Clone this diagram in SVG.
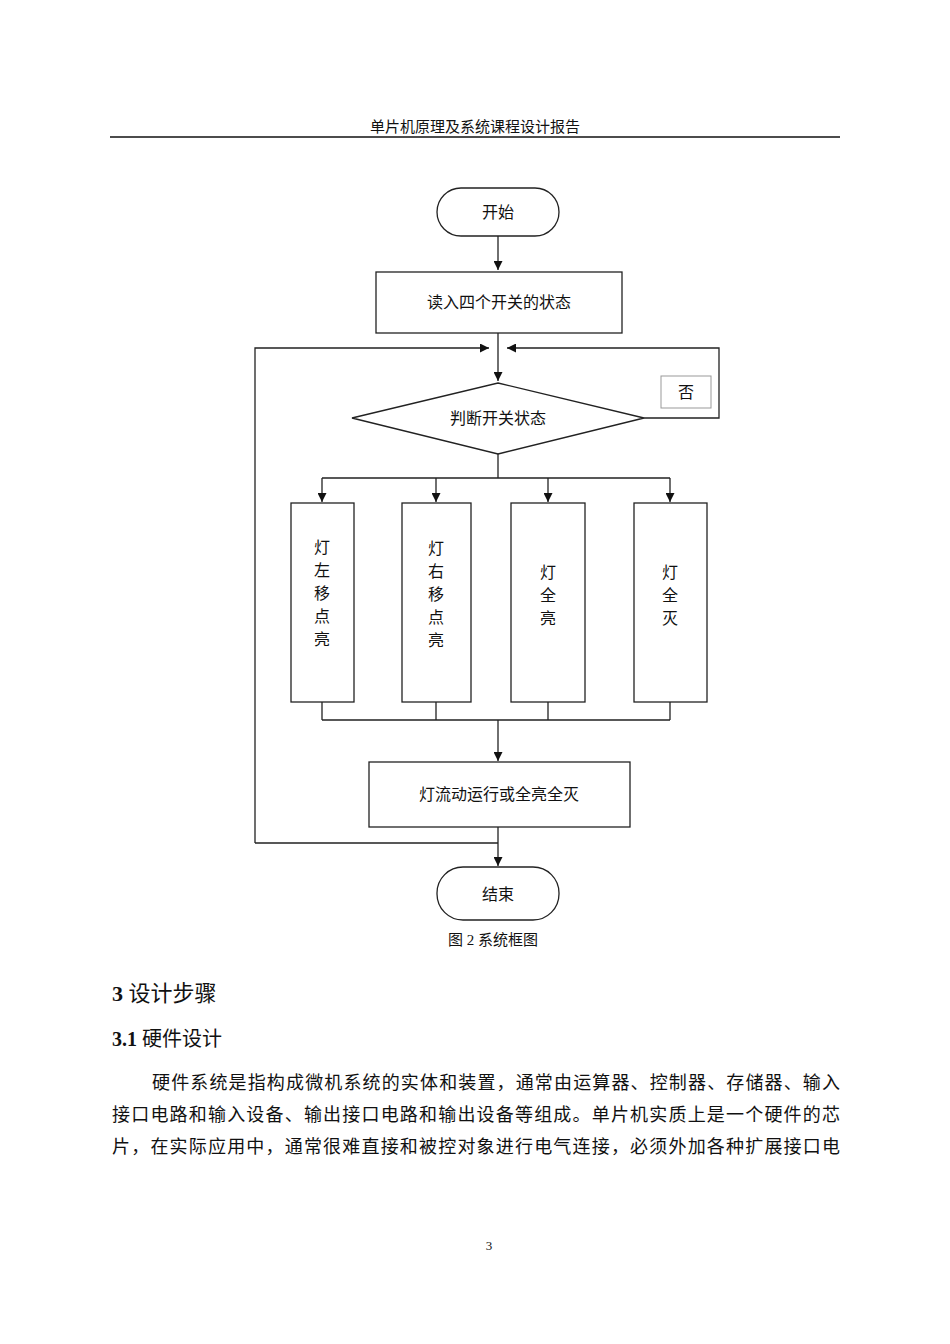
<svg xmlns="http://www.w3.org/2000/svg" width="950" height="1344" viewBox="0 0 950 1344">
<style>
text{font-family:"Liberation Serif","Noto Sans CJK SC",serif;fill:#111}
.n{fill:#fff;stroke:#222;stroke-width:1.3}
.c{fill:none;stroke:#222;stroke-width:1.3}
.t{font-size:16px;text-anchor:middle}
.b{font-size:18px}
</style>
<defs><marker id="a" viewBox="0 0 10 10" refX="10" refY="5" markerWidth="9" markerHeight="9" markerUnits="userSpaceOnUse" orient="auto"><path d="M0,0L10,5L0,10z" fill="#111"/></marker></defs>
<rect width="950" height="1344" fill="#fff"/>
<text x="475" y="132" font-size="15" text-anchor="middle">单片机原理及系统课程设计报告</text>
<line x1="110" y1="137" x2="840" y2="137" stroke="#111" stroke-width="1.5"/>
<g id="connectors">
<path class="c" d="M498,236V270" marker-end="url(#a)"/>
<path class="c" d="M498,333V381" marker-end="url(#a)"/>
<path class="c" d="M255,843V348H489" marker-end="url(#a)"/>
<path class="c" d="M644,418H719V348H507" marker-end="url(#a)"/>
<path class="c" d="M498,454V478M322,478H670"/>
<path class="c" d="M322,478V502" marker-end="url(#a)"/>
<path class="c" d="M436,478V502" marker-end="url(#a)"/>
<path class="c" d="M548,478V502" marker-end="url(#a)"/>
<path class="c" d="M670,478V502" marker-end="url(#a)"/>
<path class="c" d="M322,702V720M436,702V720M548,702V720M670,702V720M322,720H670"/>
<path class="c" d="M498,720V761" marker-end="url(#a)"/>
<path class="c" d="M255,843H498M498,827V866" marker-end="url(#a)"/>
</g>
<g id="start"><rect class="n" x="437" y="188" width="122" height="48" rx="24"/><text class="t" x="498" y="218">开始</text></g>
<g id="read"><rect class="n" x="376" y="272" width="246" height="61"/><text class="t" x="499" y="308">读入四个开关的状态</text></g>
<g id="judge"><polygon class="n" points="498,383 644,418 498,454 352,418"/><text class="t" x="498" y="424">判断开关状态</text></g>
<g id="no"><rect x="661" y="376" width="50" height="32" fill="#fff" stroke="#999"/><text class="t" x="686" y="398">否</text></g>
<g id="b1"><rect class="n" x="291" y="503" width="63" height="199"/><text class="t" x="322" y="553">灯</text><text class="t" x="322" y="576">左</text><text class="t" x="322" y="599">移</text><text class="t" x="322" y="622">点</text><text class="t" x="322" y="645">亮</text></g>
<g id="b2"><rect class="n" x="402" y="503" width="69" height="199"/><text class="t" x="436" y="554">灯</text><text class="t" x="436" y="577">右</text><text class="t" x="436" y="600">移</text><text class="t" x="436" y="623">点</text><text class="t" x="436" y="646">亮</text></g>
<g id="b3"><rect class="n" x="511" y="503" width="74" height="199"/><text class="t" x="548" y="578">灯</text><text class="t" x="548" y="601">全</text><text class="t" x="548" y="624">亮</text></g>
<g id="b4"><rect class="n" x="634" y="503" width="73" height="199"/><text class="t" x="670" y="578">灯</text><text class="t" x="670" y="601">全</text><text class="t" x="670" y="624">灭</text></g>
<g id="run"><rect class="n" x="369" y="762" width="261" height="65"/><text class="t" x="499" y="800">灯流动运行或全亮全灭</text></g>
<g id="end"><rect class="n" x="437" y="867" width="122" height="53" rx="26"/><text class="t" x="498" y="900">结束</text></g>
<text x="493" y="945" font-size="15" text-anchor="middle">图 2  系统框图</text>
<text x="112" y="1001" font-size="22"><tspan font-weight="bold">3</tspan>  设计步骤</text>
<text x="112" y="1046" font-size="20"><tspan font-weight="bold">3.1</tspan> 硬件设计</text>
<text class="b" x="152" y="1089" textLength="688" lengthAdjust="spacing">硬件系统是指构成微机系统的实体和装置，通常由运算器、控制器、存储器、输入</text>
<text class="b" x="112" y="1121" textLength="728" lengthAdjust="spacing">接口电路和输入设备、输出接口电路和输出设备等组成。单片机实质上是一个硬件的芯</text>
<text class="b" x="112" y="1153" textLength="728" lengthAdjust="spacing">片，在实际应用中，通常很难直接和被控对象进行电气连接，必须外加各种扩展接口电</text>
<text x="489" y="1250" font-size="13" text-anchor="middle">3</text>
</svg>
